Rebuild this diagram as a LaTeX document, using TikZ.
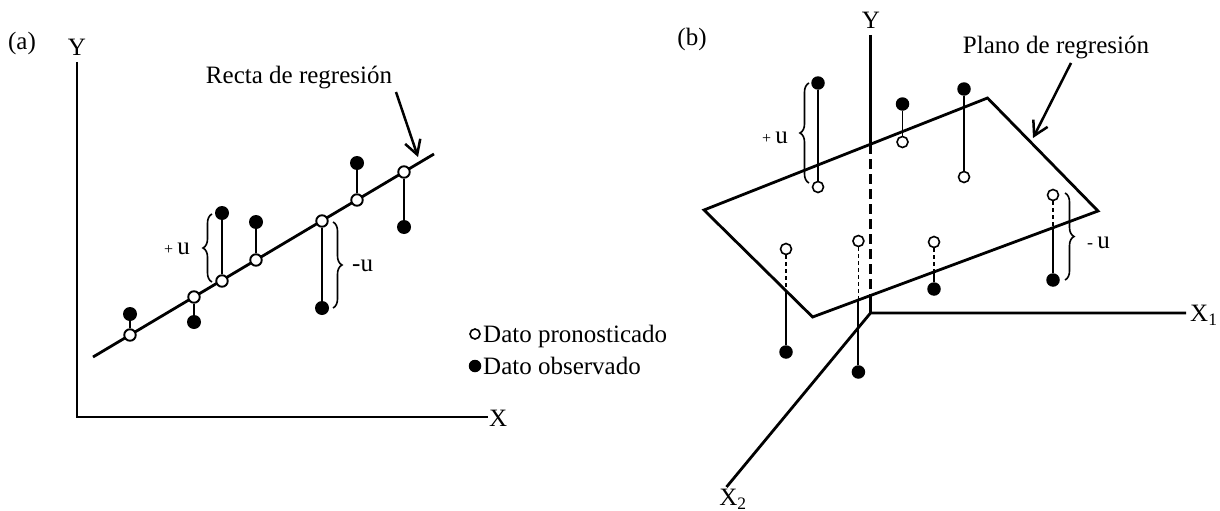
\documentclass[tikz,border=0pt]{standalone}
\usepackage{fontspec}
\setmainfont{Liberation Serif}
\usetikzlibrary{arrows.meta,decorations.pathreplacing}
\begin{document}
\begin{tikzpicture}[x=1pt,y=-1pt,
  ax/.style={line width=2.8pt},
  stem/.style={line width=1.9pt},
  dstem/.style={line width=1.2pt, dash pattern=on 4pt off 3pt},
  dax/.style={line width=2.8pt, dash pattern=on 10pt off 5pt},
  opn/.style={circle, draw, line width=1.9pt, fill=white, minimum size=11.5pt, inner sep=0pt},
  fil/.style={circle, fill=black, minimum size=14pt, inner sep=0pt},
  opnb/.style={circle, draw, line width=1.6pt, fill=white, minimum size=11pt, inner sep=0pt},
  filb/.style={circle, fill=black, minimum size=13.5pt, inner sep=0pt},
  lbl/.style={font=\fontsize{25}{30}\selectfont, inner sep=0pt},
  brc/.style={decorate, decoration={brace, amplitude=9pt}, line width=1.6pt},
  arr/.style={line width=2.5pt, -{Straight Barb[length=14pt,width=16pt]}}
]
\useasboundingbox (0,0) rectangle (1220,511);

% ---------------- panel (a) ----------------
\node[lbl] (la) at (22,43) {(a)};
\coordinate (Ya) at (77,62);
\coordinate (Oa) at (77,417);
\coordinate (Xa) at (488,417);
\draw[ax] (Ya) -- (Oa) -- (Xa);
\node[lbl] (lYa) at (77,47) {Y};
\node[lbl, anchor=west] (lXa) at (489,418) {X};

\coordinate (r1) at (93,357);
\coordinate (r2) at (434,154);
\draw[ax] (r1) -- (r2);

\node[opn] (o1) at (130,335) {};
\node[opn] (o2) at (194,297) {};
\node[opn] (o3) at (222,281) {};
\node[opn] (o4) at (256,260) {};
\node[opn] (o5) at (322,221) {};
\node[opn] (o6) at (357,200) {};
\node[opn] (o7) at (404,172) {};

\node[fil] (f1) at (130,314) {};
\node[fil] (f2) at (194,322) {};
\node[fil] (f3) at (222,213) {};
\node[fil] (f4) at (256,222) {};
\node[fil] (f5) at (322,308) {};
\node[fil] (f6) at (357,163) {};
\node[fil] (f7) at (404,227) {};

\foreach \i in {1,...,7} {\draw[stem] (o\i) -- (f\i);}

\coordinate (ba1) at (212,282);
\coordinate (ba2) at (212,214);
\draw[brc] (ba1) -- (ba2);
\node[lbl, anchor=base east] (pua) at (190,254) {{\fontsize{16}{16}\selectfont +}\,u};

\coordinate (bb1) at (333,222);
\coordinate (bb2) at (333,308);
\draw[brc] (bb1) -- (bb2);
\node[lbl, anchor=base west] (mua) at (352,271) {-u};

\node[lbl, anchor=base] (rec) at (299,83) {Recta de regresión};
\coordinate (ra1) at (396,92);
\coordinate (ra2) at (418,157);
\draw[arr] (ra1) -- (ra2);

\node[opn, minimum size=10pt, line width=1.6pt] (lo) at (475,334) {};
\node[fil, minimum size=12.5pt] (lf) at (475,366) {};
\node[lbl, anchor=base west] (lt1) at (483,342) {Dato pronosticado};
\node[lbl, anchor=base west] (lt2) at (483,374) {Dato observado};

% ---------------- panel (b) ----------------
\node[lbl] (lb) at (692,39) {(b)};

\coordinate (pL) at (704,210);
\coordinate (pT) at (987.5,98);
\coordinate (pR) at (1098,211);
\coordinate (pB) at (812.6,317);

\coordinate (Yb) at (870.5,35);
\coordinate (yc1) at (870.5,144.2);
\coordinate (yc2) at (870.5,295.5);
\coordinate (Ob) at (870.5,313);
\coordinate (X1) at (1186,313);
\coordinate (X2) at (726.5,487);

\draw[ax] (Yb) -- (yc1);
\draw[dax] (yc1) -- (yc2);
\draw[ax] (yc2) -- (Ob);
\draw[ax] (X1) -- (Ob) -- (X2);
\draw[ax, line join=miter] (pL) -- (pT) -- (pR) -- (pB) -- cycle;

\node[lbl] (lYb) at (871,20) {Y};
\node[lbl, anchor=west] (lX1) at (1190,315) {X\textsubscript{1}};
\node[lbl] (lX2) at (733,499) {X\textsubscript{2}};

% points above the plane
\node[filb] (g1) at (818,83) {};
\node[filb] (g2) at (902.5,104) {};
\node[filb] (g3) at (964,89) {};
\node[opnb] (q1) at (818,187) {};
\node[opnb] (q2) at (902.5,142) {};
\node[opnb] (q3) at (964,177) {};
\draw[stem] (g1) -- (q1);
\draw[stem] (g2) -- (q2);
\draw[stem] (g3) -- (q3);

% points below the plane
\node[opnb] (q4) at (786,249) {};
\node[opnb] (q5) at (858.4,241) {};
\node[opnb] (q6) at (934,242) {};
\node[opnb] (q7) at (1053,195) {};
\node[filb] (g4) at (786,352) {};
\node[filb] (g5) at (858.4,372) {};
\node[filb] (g6) at (934,289) {};
\node[filb] (g7) at (1053,280) {};
\coordinate (c4) at (786,290.5);
\coordinate (c5) at (858.4,300);
\coordinate (c6) at (934,272);
\coordinate (c7) at (1053,227.7);
\foreach \i in {4,...,7} {\draw[dstem] (q\i) -- (c\i); \draw[stem] (c\i) -- (g\i);}

\coordinate (bc1) at (809,183);
\coordinate (bc2) at (809,83);
\draw[brc] (bc1) -- (bc2);
\node[lbl, anchor=base east] (pub) at (788,143) {{\fontsize{16}{16}\selectfont +}\,u};

\coordinate (bd1) at (1065,193);
\coordinate (bd2) at (1065,280);
\draw[brc] (bd1) -- (bd2);
\node[lbl, anchor=base west] (mub) at (1087,248) {{\fontsize{18}{18}\selectfont -}\,u};

\node[lbl, anchor=base] (pla) at (1056,54) {Plano de regresión};
\coordinate (pa1) at (1071,63);
\coordinate (pa2) at (1033,138);
\draw[arr] (pa1) -- (pa2);
\end{tikzpicture}
\end{document}
